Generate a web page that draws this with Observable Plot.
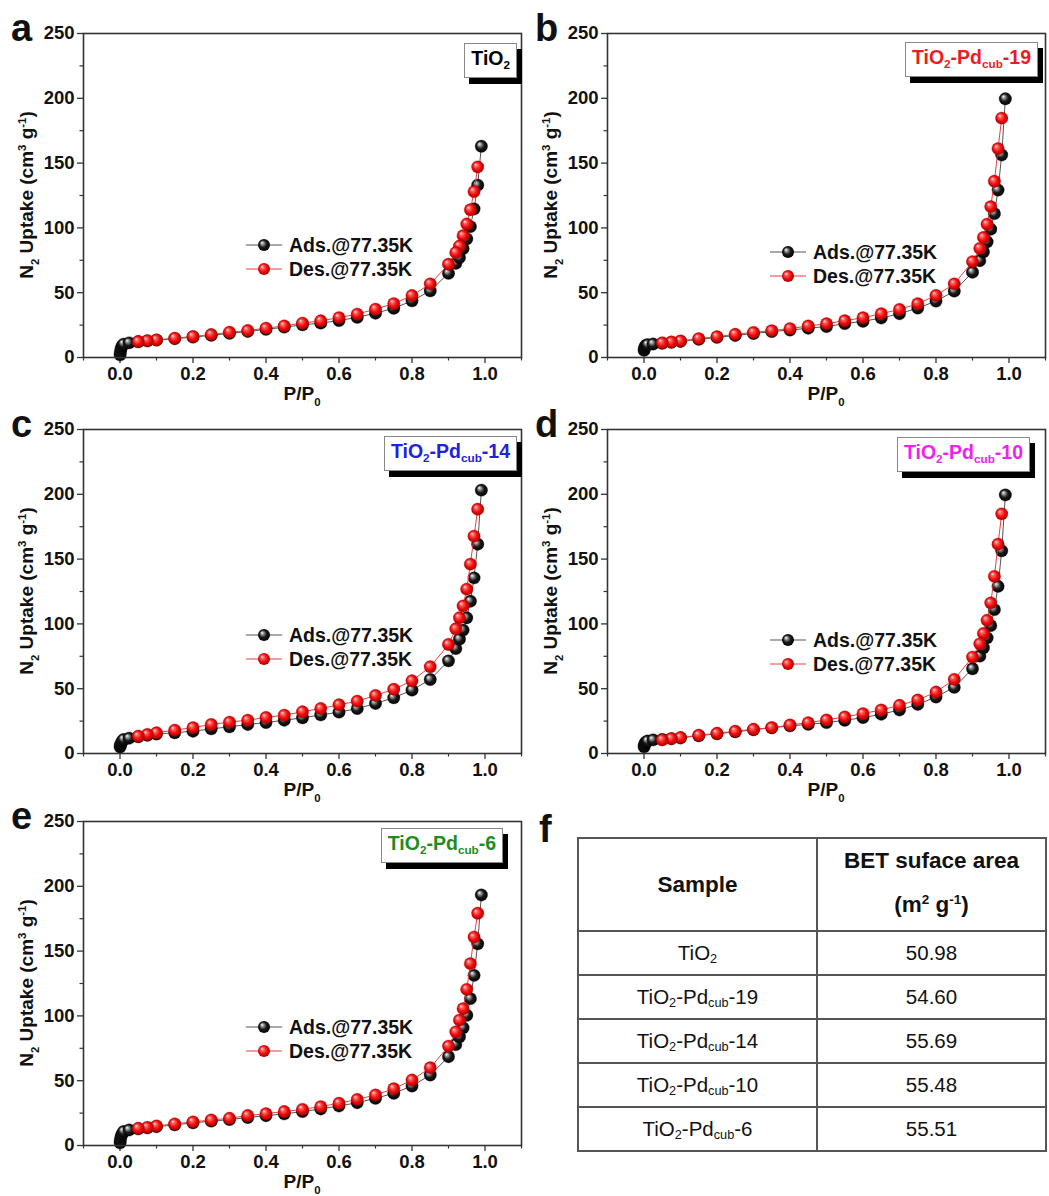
<!DOCTYPE html>
<html><head><meta charset="utf-8">
<script src="https://cdn.jsdelivr.net/npm/d3@7"></script>
<script src="https://cdn.jsdelivr.net/npm/@observablehq/plot@0.6"></script>
<style>
body{margin:0;background:#fff;font-family:Arial,"Liberation Sans",Helvetica,sans-serif;color:#111;}
#fig{position:relative;width:1049px;height:1196px;overflow:hidden;background:#fff;}
#fig svg text{font-weight:bold;font-size:18.5px;fill:#111;}
.abs{position:absolute;}
.letter{font-weight:bold;font-size:38px;line-height:1;}
.ytitle{font-weight:bold;font-size:19px;white-space:nowrap;transform:translate(-50%,-50%) rotate(-90deg);line-height:1;}
.xtitle{font-weight:bold;font-size:19px;white-space:nowrap;transform:translate(-50%,-50%);line-height:1;}
.sb{font-size:60%;position:relative;top:0.5em;}
.sp{font-size:60%;position:relative;top:-0.6em;}
.legend{font-weight:bold;font-size:19.5px;line-height:24px;white-space:nowrap;}
.legend div{display:flex;align-items:center;height:24px;}
.legend svg{margin-right:7px;}
.lbl{background:#fff;border:1px solid #888;box-shadow:5px 6px 0 #000;font-weight:bold;font-size:19.5px;height:35px;box-sizing:border-box;display:flex;align-items:center;padding:0 6px 3px 6px;white-space:nowrap;line-height:1;}
table{border-collapse:collapse;font-size:20.5px;}
td{border:2px solid #555;text-align:center;padding:0;}
th{border:2px solid #555;text-align:center;font-weight:bold;font-size:22.5px;padding:0;}
.tsb{font-size:62%;position:relative;top:0.25em;}
</style>
</head><body>
<svg width="0" height="0" style="position:absolute">
  <defs>
    <radialGradient id="ballK" cx="50%" cy="50%" r="55%" fx="32%" fy="30%">
      <stop offset="0%" stop-color="#ffffff"/>
      <stop offset="22%" stop-color="#9a9a9a"/>
      <stop offset="55%" stop-color="#1a1a1a"/>
      <stop offset="100%" stop-color="#000000"/>
    </radialGradient>
    <radialGradient id="ballR" cx="50%" cy="50%" r="55%" fx="32%" fy="30%">
      <stop offset="0%" stop-color="#ffe8e8"/>
      <stop offset="25%" stop-color="#ff6060"/>
      <stop offset="60%" stop-color="#f00a0a"/>
      <stop offset="100%" stop-color="#9a0000"/>
    </radialGradient>
  </defs>
</svg>
<div id="fig"></div>
<script>
// ---------------- DATA ----------------
const adsP = [0.0003, 0.001, 0.003, 0.006, 0.01, 0.025, 0.05, 0.075, 0.1, 0.15, 0.2, 0.25, 0.3, 0.35, 0.4, 0.45, 0.5, 0.55, 0.6, 0.65, 0.7, 0.75, 0.8, 0.85, 0.9, 0.92, 0.93, 0.94, 0.95, 0.96, 0.97, 0.98, 0.99];
const desP = [0.98, 0.97, 0.96, 0.95, 0.94, 0.93, 0.92, 0.9, 0.85, 0.8, 0.75, 0.7, 0.65, 0.6, 0.55, 0.5, 0.45, 0.4, 0.35, 0.3, 0.25, 0.2, 0.15, 0.1, 0.075, 0.05];

const adsTiO2 = [2, 4.5, 7, 9, 10.3, 11.3, 12.1, 12.8, 13.4, 14.5, 15.7, 17.1, 18.6, 20.1, 21.7, 23.4, 25.2, 26.5, 28.5, 31, 34.2, 38, 43.7, 51.4, 65, 72.7, 77, 84, 91.5, 101, 114.6, 133, 163];
const desTiO2 = [147, 128, 114, 103, 94, 86, 81, 72, 56.8, 47.8, 41.6, 37.3, 33.5, 30.8, 28.3, 26.5, 24.4, 22.6, 20.8, 19.5, 17.7, 16.2, 14.9, 13.6, 13, 12.3];

const adsPd19 = [5.5, 7, 8.5, 9.5, 9.9, 10.4, 11, 11.7, 12.4, 14, 15.5, 17, 18.5, 20, 21.2, 22.6, 23.9, 26.1, 27.9, 30.5, 33.8, 38.1, 43.5, 51.2, 65.8, 74.7, 81.6, 89.3, 99, 111, 129.2, 156.3, 199.6];
const desPd19 = [184.7, 161.2, 136, 116.4, 102.9, 92.6, 84.2, 74, 56.8, 47.9, 41.5, 37.1, 33.8, 30.7, 28.4, 26.1, 24.3, 22.3, 20.7, 19.4, 17.9, 16.1, 14.6, 12.8, 12, 11.3];

const adsPd14 = [5, 6.5, 7.7, 9.5, 10.8, 11.8, 12.9, 14, 15, 16, 17.2, 19, 20.6, 22.4, 23.9, 25.7, 27.5, 29.8, 31.9, 34.7, 38.6, 43, 48.9, 57.1, 71.5, 81, 88.2, 95.2, 104.7, 117.5, 135.5, 161.5, 203.2];
const desPd14 = [188.5, 167.7, 146.1, 126.8, 113.9, 104.7, 96.2, 84.1, 66.9, 56.1, 49.6, 44.8, 40.4, 37.6, 34.7, 32.2, 29.6, 27.8, 25.7, 24.2, 22.4, 20, 18, 16, 14.7, 13.4];

const adsPd10 = [5.1, 6.5, 8, 9, 9.6, 10.5, 10.8, 11.4, 12, 13.7, 15.2, 16.7, 18.3, 19.8, 21.3, 22.5, 23.8, 25.6, 27.7, 30.3, 33.6, 37.9, 43.6, 51, 65.4, 75.1, 81.5, 89.2, 98.7, 111, 129, 156.4, 199.5];
const desPd10 = [184.9, 161.5, 136.7, 116.2, 102.8, 92.6, 84.6, 74.4, 57.2, 47.4, 41.3, 37.2, 33.6, 30.8, 28.2, 25.9, 23.8, 22, 20, 18.7, 17.2, 15.6, 14.1, 12.3, 11.5, 10.5];

const adsPd6 = [2, 4.5, 7, 9, 10.8, 12, 12.8, 13.6, 14.5, 15.9, 17.5, 18.8, 20, 21.6, 23, 24.4, 26.2, 28.2, 30.5, 33, 36.4, 40.3, 45.9, 54.4, 68.5, 77.9, 83.8, 90.8, 100.5, 113.3, 131.3, 155.6, 193.3];
const desPd6 = [179.2, 160.8, 140.3, 120.5, 105.6, 96.7, 87.7, 76.7, 60, 50.5, 43.8, 39, 35.6, 32.6, 30, 27.9, 26.2, 24.6, 23.1, 21, 19.7, 18.2, 16.7, 15.1, 14, 13.3];

const xTicks = [0, 0.2, 0.4, 0.6, 0.8, 1.0];
const xMinor = [-0.1, 0.1, 0.3, 0.5, 0.7, 0.9, 1.1];
const yTicks = [0, 50, 100, 150, 200, 250];
const yMinor = [25, 75, 125, 175, 225];

const panelLetters = ["a", "b", "c", "d", "e"];
const sampleNames = ["TiO2", "TiO2-Pdcub-19", "TiO2-Pdcub-14", "TiO2-Pdcub-10", "TiO2-Pdcub-6"];
const sampleSuffix = ["", "-19", "-14", "-10", "-6"];
const betArea = [50.98, 54.60, 55.69, 55.48, 55.51];
const seriesNames = ["Ads.@77.35K", "Des.@77.35K"];

// ---------------- LAYOUT / STYLE ----------------
const W = 438, H = 324, ML = 45, MR = 10, MT = 10, MB = 32;
const layout = [
  {left: 83, top: 33, legTop: 200, boxRight: 517, boxTop: 43, color: "#000000"},
  {left: 607, top: 33, legTop: 207, boxRight: 1038, boxTop: 42, color: "#ec1c24"},
  {left: 83, top: 429, legTop: 194, boxRight: 517, boxTop: 436, color: "#2222dd"},
  {left: 607, top: 429, legTop: 199, boxRight: 1030, boxTop: 437, color: "#ee22ee"},
  {left: 83, top: 821, legTop: 194, boxRight: 503, boxTop: 828, color: "#1e8c1e"}
];
const adsAll = [adsTiO2, adsPd19, adsPd14, adsPd10, adsPd6];
const desAll = [desTiO2, desPd19, desPd14, desPd10, desPd6];

const fig = document.getElementById("fig");
const FONT = 'Arial, "Liberation Sans", Helvetica, sans-serif';

function el(tag, cls, html, style) {
  const e = document.createElement(tag);
  if (cls) e.className = cls;
  if (html != null) e.innerHTML = html;
  if (style) Object.assign(e.style, style);
  return e;
}

function sampleHTML(i) {
  return i === 0 ? 'TiO<span class="sb">2</span>'
    : 'TiO<span class="sb">2</span>-Pd<span class="sb">cub</span>' + sampleSuffix[i];
}

function makePanel(i) {
  const L = layout[i];
  const ads = adsP.map((p, k) => ({p, v: adsAll[i][k]}));
  const des = desP.map((p, k) => ({p, v: desAll[i][k]}));
  const chart = Plot.plot({
    width: ML + W + MR, height: MT + H + MB,
    marginLeft: ML, marginRight: MR, marginTop: MT, marginBottom: MB,
    x: {domain: [-0.1, 1.1]},
    y: {domain: [0, 250]},
    style: {background: "transparent", overflow: "visible", fontFamily: FONT, fontSize: "18.5px", fontWeight: "bold", color: "#111"},
    marks: [
      Plot.axisX({ticks: xTicks, tickFormat: d => d.toFixed(1), tickSize: 6, tickPadding: 3, label: null, stroke: "#333", strokeWidth: 1.3}),
      Plot.axisX({ticks: xMinor, tickFormat: () => "", tickSize: 3.5, label: null, stroke: "#333", strokeWidth: 1.2}),
      Plot.axisY({ticks: yTicks, tickSize: 6, tickPadding: 3, label: null, stroke: "#333", strokeWidth: 1.3}),
      Plot.axisY({ticks: yMinor, tickFormat: () => "", tickSize: 3.5, label: null, stroke: "#333", strokeWidth: 1.2}),
      Plot.line(ads, {x: "p", y: "v", stroke: "#555", strokeWidth: 1}),
      Plot.dot(ads, {x: "p", y: "v", r: 6.2, fill: "url(#ballK)", stroke: "#000", strokeWidth: 0.3}),
      Plot.line(des, {x: "p", y: "v", stroke: "#e84040", strokeWidth: 1}),
      Plot.dot(des, {x: "p", y: "v", r: 6.2, fill: "url(#ballR)", stroke: "#b00000", strokeWidth: 0.3}),
      Plot.frame({stroke: "#333", strokeWidth: 1.6})
    ]
  });
  chart.style.position = "absolute";
  chart.style.left = (L.left - ML) + "px";
  chart.style.top = (L.top - MT) + "px";
  fig.appendChild(chart);

  // panel letter
  fig.appendChild(el("div", "abs letter", panelLetters[i], {left: (L.left - 72) + "px", top: (L.top - 24) + "px"}));
  // y title
  fig.appendChild(el("div", "abs ytitle",
    'N<span class="sb">2</span> Uptake (cm<span class="sp">3</span> g<span class="sp">-1</span>)',
    {left: (L.left - 57) + "px", top: (L.top + H / 2) + "px"}));
  // x title
  fig.appendChild(el("div", "abs xtitle", 'P/P<span class="sb">0</span>',
    {left: (L.left + W / 2) + "px", top: (L.top + H + 36) + "px"}));
  // legend
  const leg = el("div", "abs legend", null, {left: (L.left + 163) + "px", top: (L.top + L.legTop) + "px"});
  seriesNames.forEach((name, s) => {
    const row = el("div");
    const line = s === 0 ? "#555" : "#e84040";
    const fill = s === 0 ? "url(#ballK)" : "url(#ballR)";
    row.innerHTML = `<svg width="36" height="14"><line x1="0" y1="7" x2="36" y2="7" stroke="${line}" stroke-width="1"/><circle cx="18" cy="7" r="6" fill="${fill}"/></svg><span>${name}</span>`;
    leg.appendChild(row);
  });
  fig.appendChild(leg);
  // sample label box
  fig.appendChild(el("div", "abs lbl", sampleHTML(i),
    {right: (1049 - L.boxRight) + "px", top: L.boxTop + "px", color: L.color}));
}

for (let i = 0; i < 5; i++) makePanel(i);

// panel f: table
fig.appendChild(el("div", "abs letter", "f", {left: "539px", top: "810px"}));
const tbl = el("table", "abs", null, {left: "577px", top: "837px", width: "470px", height: "308px"});
let html = '<tr style="height:88px"><th style="width:237px">Sample</th><th style="line-height:44px">BET suface area<br>(m<span class="sp">2</span> g<span class="sp">-1</span>)</th></tr>';
sampleNames.forEach((n, i) => {
  const name = i === 0 ? 'TiO<span class="tsb">2</span>'
    : 'TiO<span class="tsb">2</span>-Pd<span class="tsb">cub</span>' + sampleSuffix[i];
  html += `<tr style="height:44px"><td>${name}</td><td>${betArea[i].toFixed(2)}</td></tr>`;
});
tbl.innerHTML = html;
fig.appendChild(tbl);
</script>
</body></html>
